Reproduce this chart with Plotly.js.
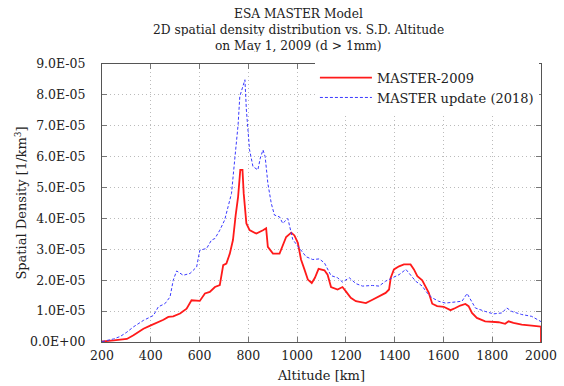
<!DOCTYPE html>
<html>
<head>
<meta charset="utf-8">
<script src="https://cdn.plot.ly/plotly-3.0.1.min.js"></script>
<style>html,body{margin:0;padding:0;background:#fff;}#chart{width:564px;height:386px;}</style>
</head>
<body>
<div id="chart"></div>
<script>
// Altitude [km] and spatial density [1E-5 / km^3]
const altRed = [200,204,248,302,329,370,400,418,438,452,472,492,520,547,567,601,622,642,663,683,697,710,724,737,748,758,767,776,781,788,792,805,833,860,873,880,901,928,942,955,976,989,1003,1016,1030,1044,1060,1073,1088,1112,1125,1139,1166,1186,1200,1220,1241,1282,1309,1336,1363,1377,1384,1397,1418,1438,1465,1479,1493,1513,1527,1540,1554,1574,1601,1629,1649,1669,1690,1703,1717,1737,1771,1826,1853,1867,1887,1921,1962,1989,2000,2000];
const valRed = [0.02,0.02,0.05,0.1,0.22,0.43,0.54,0.6,0.67,0.72,0.81,0.83,0.92,1.08,1.35,1.33,1.57,1.62,1.78,1.84,2.49,2.54,2.86,3.3,4.1,4.7,5.57,5.57,4.81,4.16,3.84,3.62,3.51,3.62,3.68,3.08,2.86,2.86,3.16,3.4,3.54,3.45,3.21,2.67,2.35,2.02,1.91,2.08,2.37,2.32,2.18,1.78,1.7,1.78,1.64,1.43,1.32,1.26,1.37,1.48,1.59,1.7,2.08,2.35,2.45,2.51,2.51,2.35,2.13,2.0,1.81,1.59,1.24,1.16,1.14,1.03,1.1,1.18,1.23,1.16,0.94,0.78,0.67,0.64,0.59,0.67,0.62,0.56,0.53,0.51,0.5,0];
const altBlue = [200,204,248,275,302,329,370,411,431,458,479,492,506,533,561,588,601,629,649,663,683,703,717,731,744,758,765,776,786,792,799,805,819,839,849,860,869,880,894,907,928,941,962,975,982,1003,1023,1037,1064,1091,1112,1125,1139,1166,1186,1214,1241,1268,1309,1336,1363,1391,1418,1446,1465,1486,1513,1533,1554,1580,1608,1635,1676,1697,1710,1731,1771,1805,1839,1860,1880,1921,1962,1996,2000];
const valBlue = [0.02,0.02,0.1,0.18,0.32,0.49,0.7,0.86,1.14,1.24,1.46,2.0,2.3,2.16,2.22,2.43,2.97,3.03,3.3,3.35,3.62,3.95,4.38,4.81,5.89,7.03,7.95,8.27,8.49,7.51,6.76,6.22,5.68,5.57,5.95,6.22,6.0,5.14,4.49,4.11,4.05,3.84,4.0,3.51,3.32,3.1,2.89,2.76,2.67,2.69,2.56,2.35,2.15,2.08,1.94,2.08,1.89,1.81,1.83,1.81,1.97,2.08,2.18,2.35,2.18,1.97,1.81,1.59,1.43,1.32,1.26,1.29,1.32,1.57,1.37,1.1,0.99,0.91,0.94,1.1,0.99,0.89,0.83,0.67,0.66];
const yTickVals = [0,1,2,3,4,5,6,7,8,9];
const yTickText = ["0.0E+00","1.0E-05","2.0E-05","3.0E-05","4.0E-05","5.0E-05","6.0E-05","7.0E-05","8.0E-05","9.0E-05"];
const xTickVals = [200,400,600,800,1000,1200,1400,1600,1800,2000];
const seriesNames = ["MASTER-2009","MASTER update (2018)"];
const titleLines = ["ESA MASTER Model","2D spatial density distribution vs. S.D. Altitude","on May 1, 2009 (d > 1mm)"];

const F = "DejaVu Serif, serif";
const FC = "DejaVu Serif Condensed, DejaVu Serif, serif";
const TXT = "#222";
const traces = [
  {x: altRed, y: valRed, mode: "lines", name: seriesNames[0], line: {color: "#ff1a1a", width: 1.8}},
  {x: altBlue, y: valBlue, mode: "lines", name: seriesNames[1], line: {color: "#3a3aff", width: 1, dash: "3px,2px"}}
];
const axisCommon = {
  showline: true, mirror: "ticks", linecolor: "#555", linewidth: 1,
  ticks: "inside", ticklen: 5, tickcolor: "#777",
  showgrid: true, gridcolor: "#bbbbbb", griddash: "1px,3px", gridwidth: 1,
  zeroline: false, tickfont: {family: F, size: 12.5, color: TXT}
};
const titleY = [1.1817, 1.1259, 1.0701];
const annotations = titleLines.map((t, i) => ({
  text: t, xref: "paper", yref: "paper", x: 0.4465, y: titleY[i], xanchor: "center", yanchor: "middle",
  height: 14, valign: "middle",
  showarrow: false, font: {family: FC, size: 13.6, color: TXT}
}));
const layout = {
  width: 564, height: 386,
  margin: {l: 102, r: 23, t: 64, b: 44},
  paper_bgcolor: "#fff", plot_bgcolor: "#fff",
  font: {family: F, color: TXT},
  annotations: annotations,
  xaxis: Object.assign({}, axisCommon, {range: [200, 2000], tickvals: xTickVals, ticktext: xTickVals.map(String),
          ticklabelstandoff: 2,
          title: {text: "Altitude [km]", font: {family: F, size: 13}, standoff: 8}}),
  yaxis: Object.assign({}, axisCommon, {range: [0, 9], tickvals: yTickVals, ticktext: yTickText,
          ticklabelstandoff: 13,
          title: {text: "Spatial Density [1/km<sup>3</sup>]", font: {family: F, size: 13}, standoff: 0}}),
  showlegend: true,
  legend: {x: 0.485, y: 1.005, xanchor: "left", yanchor: "top", bgcolor: "rgba(255,255,255,1)",
           font: {family: F, size: 13, color: TXT}, tracegroupgap: 0, itemwidth: 52}
};
Plotly.newPlot("chart", traces, layout, {displayModeBar: false, staticPlot: true});
</script>
</body>
</html>
